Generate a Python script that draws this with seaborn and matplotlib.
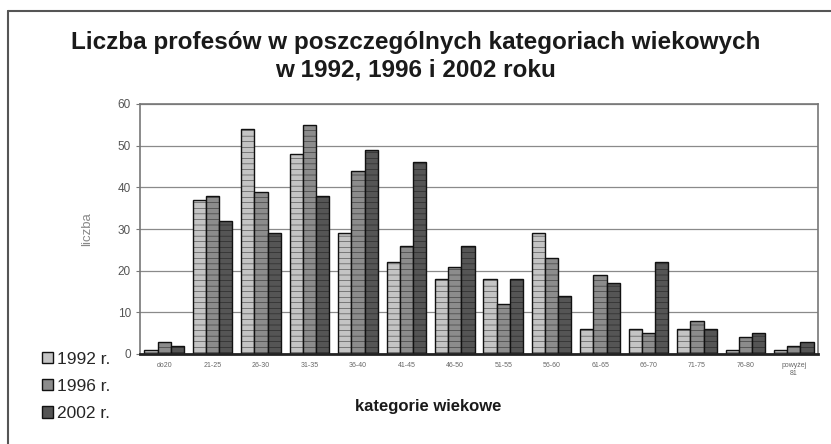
import matplotlib.pyplot as plt
import matplotlib.lines as mlines
import pandas as pd
import seaborn as sns

# age categories and counts
categories = ["do20", "21-25", "26-30", "31-35", "36-40", "41-45", "46-50",
              "51-55", "56-60", "61-65", "66-70", "71-75", "76-80", "powyżej\n81"]
years = ["1992 r.", "1996 r.", "2002 r."]
y1992 = [1, 37, 54, 48, 29, 22, 18, 18, 29, 6, 6, 6, 1, 1]
y1996 = [3, 38, 39, 55, 44, 26, 21, 12, 23, 19, 5, 8, 4, 2]
y2002 = [2, 32, 29, 38, 49, 46, 26, 18, 14, 17, 22, 6, 5, 3]
yticks = [0, 10, 20, 30, 40, 50, 60]

df = pd.DataFrame({
    "kategoria": categories * 3,
    "rok": [years[0]] * 14 + [years[1]] * 14 + [years[2]] * 14,
    "liczba": y1992 + y1996 + y2002,
})

sns.set_style("white")
plt.rcParams["font.family"] = ["Liberation Sans", "DejaVu Sans"]
plt.rcParams["hatch.color"] = "#b0b0b0"
plt.rcParams["hatch.linewidth"] = 0.3

fig = plt.figure(figsize=(8.31, 4.44), dpi=100)
ax = fig.add_axes([140 / 831, 1 - 354 / 444, 678 / 831, 250 / 444])

palette = ["#c4c4c4", "#8c8c8c", "#555555"]
sns.barplot(data=df, x="kategoria", y="liczba", hue="rok", palette=palette,
            edgecolor="#111111", linewidth=1.0, width=0.82, ax=ax, saturation=1)

for bar in ax.patches:
    bar.set_hatch("---")

ax.set_ylim(0, 60)
ax.set_yticks(yticks)
ax.set_yticklabels([str(t) for t in yticks], fontsize=8.5, color="#555555")
ax.tick_params(axis="x", labelsize=5, labelcolor="#666666", length=0, pad=6)
ax.tick_params(axis="y", length=3, color="#777777", left=True)
ax.yaxis.grid(True, color="#8a8a8a", linewidth=0.9)
ax.set_axisbelow(True)
for side in ["top", "right", "left", "bottom"]:
    ax.spines[side].set_color("#777777")
    ax.spines[side].set_linewidth(1.2)
ax.spines["bottom"].set_color("#222222")
ax.spines["bottom"].set_linewidth(2)

ax.set_ylabel("liczba", fontsize=9.5, color="#888888", labelpad=18)
ax.set_xlabel("kategorie wiekowe", fontsize=12, fontweight="bold", color="#1a1a1a")
ax.xaxis.set_label_coords((428 - 140) / 678, -(399 - 354) / 250)

fig.text(0.5, 1 - 43 / 444, "Liczba profesów w poszczególnych kategoriach wiekowych",
         ha="center", va="center", fontsize=17.5, fontweight="bold", color="#1a1a1a")
fig.text(0.5, 1 - 70 / 444, "w 1992, 1996 i 2002 roku",
         ha="center", va="center", fontsize=17.5, fontweight="bold", color="#1a1a1a")

sns.move_legend(ax, "upper left", bbox_to_anchor=(26 / 831, 1 - 336 / 444),
                bbox_transform=fig.transFigure, frameon=False, title=None,
                fontsize=12.5, labelspacing=0.7, handlelength=0.65,
                handleheight=0.65, handletextpad=0.25)

# outer frame (top and left edges visible)
fig.add_artist(mlines.Line2D([8 / 831, 1], [1 - 11 / 444, 1 - 11 / 444],
                             transform=fig.transFigure, color="#555555", linewidth=1.5))
fig.add_artist(mlines.Line2D([8 / 831, 8 / 831], [0, 1 - 11 / 444],
                             transform=fig.transFigure, color="#555555", linewidth=1.5))

fig.savefig("out.png", dpi=100)
